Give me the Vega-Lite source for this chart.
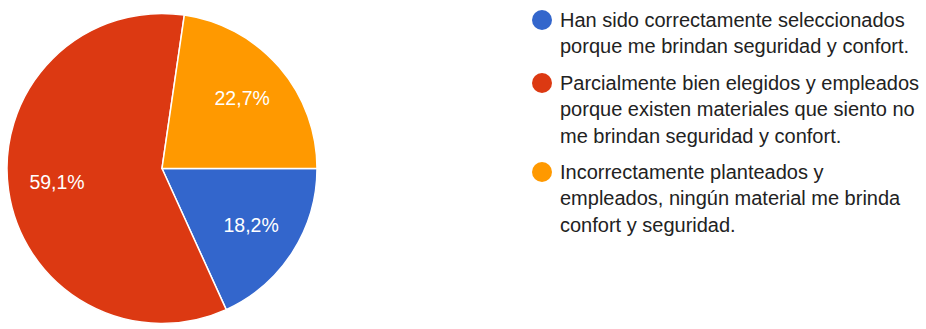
{
  "$schema": "https://vega.github.io/schema/vega-lite/v6.json",
  "width": 324,
  "height": 337,
  "autosize": {"type": "pad"},
  "padding": 0,
  "background": "white",
  "config": {"style": {"guide-label": {"lineHeight": 26.3, "dy": 7}}},
  "data": {
    "values": [
      {"respuesta": "Han sido correctamente seleccionados|porque me brindan seguridad y confort.", "pct": 18.2, "etiqueta": "18,2%", "orden": 1},
      {"respuesta": "Parcialmente bien elegidos y empleados|porque existen materiales que siento no|me brindan seguridad y confort.", "pct": 59.1, "etiqueta": "59,1%", "orden": 2},
      {"respuesta": "Incorrectamente planteados y|empleados, ningún material me brinda|confort y seguridad.", "pct": 22.7, "etiqueta": "22,7%", "orden": 3}
    ]
  },
  "encoding": {
    "theta": {"field": "pct", "type": "quantitative", "stack": true, "scale": {"domain": [0, 100], "range": [1.5708, 7.854]}},
    "order": {"field": "orden", "type": "quantitative"}
  },
  "layer": [
    {
      "mark": {"type": "arc", "outerRadius": 155, "stroke": "white", "strokeWidth": 1.5},
      "encoding": {
        "color": {
          "field": "respuesta",
          "type": "nominal",
          "sort": null,
          "scale": {
            "domain": [
              "Han sido correctamente seleccionados|porque me brindan seguridad y confort.",
              "Parcialmente bien elegidos y empleados|porque existen materiales que siento no|me brindan seguridad y confort.",
              "Incorrectamente planteados y|empleados, ningún material me brinda|confort y seguridad."
            ],
            "range": ["#3366cc", "#dc3912", "#ff9900"]
          },
          "legend": {
            "title": null,
            "orient": "right",
            "offset": 198,
            "padding": 10,
            "symbolType": "circle",
            "symbolSize": 400,
            "symbolStrokeWidth": 0,
            "labelExpr": "split(datum.label, '|')",
            "labelFont": "Liberation Sans",
            "labelFontSize": 20,
            "labelColor": "#222222",
            "labelBaseline": "alphabetic",
            "labelLimit": 500,
            "labelOffset": 8,
            "rowPadding": 15
          }
        }
      }
    },
    {
      "mark": {"type": "text", "radius": 106, "font": "Liberation Sans", "fontSize": 19.5},
      "encoding": {
        "text": {"field": "etiqueta"},
        "color": {"value": "white"}
      }
    }
  ]
}
